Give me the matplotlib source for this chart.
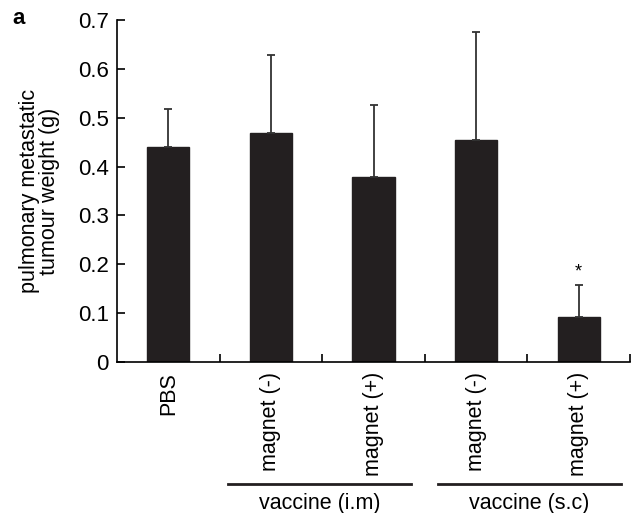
import matplotlib.pyplot as plt
from matplotlib.transforms import blended_transform_factory

plt.rcParams['font.family'] = ['Liberation Sans', 'DejaVu Sans']

labels = ["PBS", "magnet (-)", "magnet (+)", "magnet (-)", "magnet (+)"]
weights = [0.44, 0.469, 0.379, 0.455, 0.093]
errors = [0.078, 0.160, 0.147, 0.220, 0.064]
groups = ["vaccine (i.m)", "vaccine (s.c)"]
group_spans = [(0.58, 2.37), (2.63, 4.41)]

fig = plt.figure(figsize=(6.37, 5.13), dpi=100)
ax = fig.add_axes([0.1837, 0.2943, 0.8053, 0.6667])

x = range(len(labels))
ax.bar(x, weights, width=0.41, color="#231f20", edgecolor="#231f20")
ax.errorbar(x, weights, yerr=[[0] * len(errors), errors], fmt="none",
            ecolor="#333333", elinewidth=1.3, capsize=3, capthick=1.3)

# significance star on the last bar
ax.text(4, weights[4] + errors[4] + 0.01, "*", ha="center", va="bottom", fontsize=13)

ax.set_xlim(-0.5, 4.5)
ax.set_ylim(0, 0.7)
ax.set_yticks([0, 0.1, 0.2, 0.3, 0.4, 0.5, 0.6, 0.7])
ax.set_yticklabels(["0", "0.1", "0.2", "0.3", "0.4", "0.5", "0.6", "0.7"])
ax.set_xticks([0.5, 1.5, 2.5, 3.5, 4.5])
ax.set_xticklabels([])
ax.tick_params(axis="both", direction="in", length=6, width=1.2, labelsize=16)
ax.tick_params(axis="y", pad=6)
for i, lab in enumerate(labels):
    ax.text(i, -0.02, lab, rotation=90, ha="center", va="top", fontsize=15.5)

ax.spines["top"].set_visible(False)
ax.spines["right"].set_visible(False)
ax.spines["left"].set_linewidth(1.2)
ax.spines["bottom"].set_linewidth(1.2)

ax.set_ylabel("pulmonary metastatic\ntumour weight (g)", fontsize=15.5, linespacing=0.95)
ax.yaxis.set_label_coords(-0.111, 0.5)

# group brackets below the rotated labels
trans = blended_transform_factory(ax.transData, fig.transFigure)
for g, (a, b) in zip(groups, group_spans):
    ax.plot([a, b], [0.0565, 0.0565], color="#231f20", lw=2, clip_on=False, transform=trans)
    ax.text((a + b) / 2, 0.019, g, ha="center", va="center", fontsize=15.5, transform=trans)

fig.text(0.02, 0.985, "a", fontsize=16, fontweight="bold", va="top", ha="left")

fig.savefig("out.png", dpi=100)
